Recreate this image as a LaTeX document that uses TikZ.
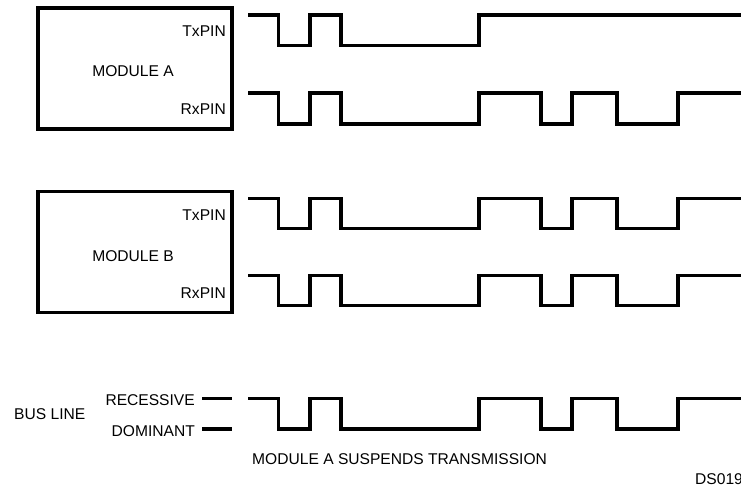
\documentclass[tikz,border=0pt]{standalone}
\usepackage{fontspec}
\setmainfont{Liberation Sans}
\usetikzlibrary{positioning}
\tikzset{
  wave/.style={line width=3.3pt},
  modbox/.style={draw,line width=3.5pt,minimum width=194pt,minimum height=121pt,inner sep=0pt},
  lbl/.style={font=\fontsize{15.6}{18}\selectfont,inner sep=0pt}
}
% one bit pattern on the bus: #1 = recessive (high) y, #2 = dominant (low) y
\newcommand\buswave[2]{%
  \draw[wave] (248,#1) -| (278.5,#2) -| (310,#1) -| (341,#2) -| (479,#1)
    -| (541,#2) -| (572,#1) -| (617,#2) -| (678,#1) -- (741,#1);}

\begin{document}
\begin{tikzpicture}[x=1pt,y=-1pt]
  \useasboundingbox (0,0) rectangle (741,489);
  % modules
  \node[modbox] (modA) at (135,68.5) {};
  \node[modbox] (modB) at (135,252.2) {};
  \node[lbl,anchor=base] (nameA) at (133,77) {MODULE A};
  \node[lbl,anchor=base] (nameB) at (133,261.7) {MODULE B};
  \node[lbl,anchor=base east] (txA) at (226,36.7) {TxPIN};
  \node[lbl,anchor=base east] (rxA) at (226,115) {RxPIN};
  \node[lbl,anchor=base east] (txB) at (226,220) {TxPIN};
  \node[lbl,anchor=base east] (rxB) at (226,298) {RxPIN};
  % Module A TxPIN stops driving after the third bit
  \draw[wave] (248,15) -| (278.5,45.5) -| (310,15) -| (341,45.5) -| (479,15) -- (741,15);
  \buswave{93}{124}
  \buswave{198.3}{228.7}
  \buswave{275.3}{305.3}
  % bus line levels
  \node[lbl,anchor=base west] (bus) at (14,419) {BUS LINE};
  \node[lbl,anchor=base east] (rec) at (195,405) {RECESSIVE};
  \node[lbl,anchor=base east] (dom) at (195,436) {DOMINANT};
  \coordinate (recL) at (202,398.3);
  \coordinate (recR) at (232,398.3);
  \coordinate (domL) at (202,429);
  \coordinate (domR) at (232,429);
  \draw[wave] (recL) -- (recR);
  \draw[wave] (domL) -- (domR);
  \buswave{398.3}{429}
  \node[lbl,anchor=base west] (note) at (252,464) {MODULE A SUSPENDS TRANSMISSION};
  \node[lbl,anchor=base west] (ds) at (695,484) {DS019};
\end{tikzpicture}
\end{document}
